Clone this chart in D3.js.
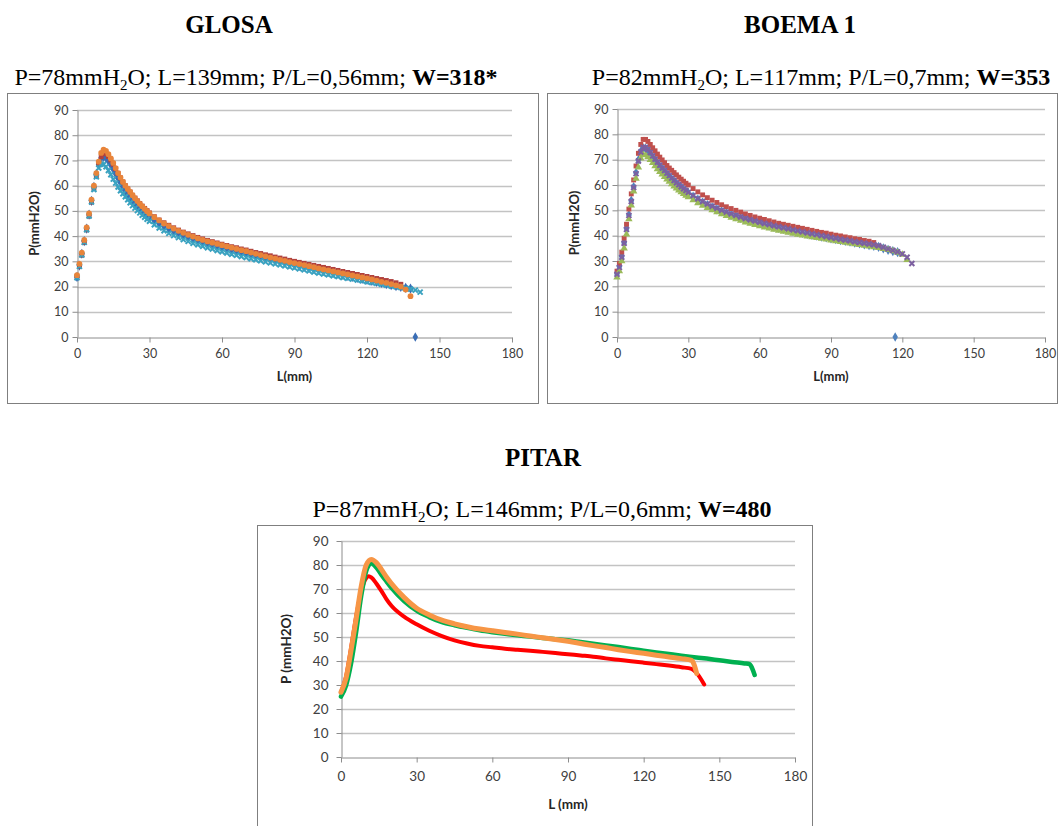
<!DOCTYPE html>
<html>
<head>
<meta charset="utf-8">
<script src="https://cdnjs.cloudflare.com/ajax/libs/d3/7.8.5/d3.min.js"></script>
<style>
body { margin: 0; background: #fff; }
svg { display: block; }
</style>
</head>
<body>
<div id="chart"></div>
<script>
// sampling grid for the two scatter charts (mm)
var gridL = [0,1,2,3,4,5,6,7,8,9,10,11,12,13,14,15,16,17,18,19,20,21,22,23,24,25,26,27,28,29,30,
  32,34,36,38,40,42,44,46,48,50,52,54,56,58,60,62,64,66,68,70,72,74,76,78,80,82,84,86,88,90,
  92,94,96,98,100,102,104,106,108,110,112,114,116,118,120,122,124,126,128,130,132,134,136,138,140,142]

// GLOSA
var glosaBlue = [23.8,28.3,33,38,43,48.5,54,59.5,64.5,68.5,71,71.5,71,69.8,68.2,66.5,64.7,62.9,61.2,59.6,
  58.1,56.7,55.4,54.2,53.1,52,51,50,49.1,48.3,47.5,
  46.1,44.9,43.8,42.8,41.9,41,40.3,39.6,38.9,38.3,37.7,37.1,36.6,36.1,35.6,35.1,34.6,34.1,33.6,33.1,
  32.6,32.2,31.7,31.2,30.8,30.3,29.9,29.5,29,28.6,28.2,27.8,27.4,27,26.6,26.2,25.8,25.4,25,24.6,
  24.2,23.8,23.4,23,22.6,22.2,21.8,21.4,21,20.6,20.2,19.9,19.5,19.2]
var glosaRed = [24,28,32.5,37.5,42.5,48,53.5,59,64,68.5,71.5,72.8,72.6,71.6,70.2,68.5,66.7,64.9,63.1,61.5,
  60,58.7,57.5,56.2,55.1,54,52.9,51.9,51,50.1,49.2,
  47.7,46.4,45.3,44.3,43.3,42.4,41.6,40.9,40.2,39.5,38.9,38.3,37.8,37.3,36.8,36.3,35.8,35.4,34.9,34.5,
  34,33.5,33.1,32.6,32.2,31.7,31.3,30.9,30.4,30,29.6,29.2,28.8,28.4,28,27.6,27.2,26.8,26.4,26,
  25.6,25.2,24.8,24.4,24,23.6,23.2,22.8,22.4,22,21.5,20.9]
var glosaTeal = [23.5,28,32.5,37.5,42.5,48,53.5,58.5,63.5,67,68.6,68.4,67.5,66,64.3,62.6,61,59.5,58,56.8,
  55.6,54.4,53.2,52.1,51.1,50.1,49.2,48.3,47.5,46.7,45.9,
  44.5,43.2,42.1,41.1,40.2,39.4,38.6,37.9,37.2,36.6,36,35.4,34.9,34.3,33.8,33.3,32.8,32.4,31.9,31.5,
  31,30.6,30.2,29.8,29.4,29,28.6,28.2,27.8,27.4,27,26.6,26.2,25.8,25.4,25,24.7,24.3,24,23.6,
  23.3,23,22.6,22.3,21.9,21.6,21.3,20.9,20.6,20.2,19.9,19.6,19.3,19,18.6,17.8]
var glosaOrange = [24.5,29,33.5,38.5,43.5,49,54.5,60,65,69.5,73,74.3,73.8,72.5,70.8,69,67,65,63.2,61.5,
  60,58.7,57.5,56.2,55,53.9,52.8,51.8,50.8,49.9,49,
  47.5,46.2,45,44,43,42.1,41.3,40.5,39.8,39.1,38.5,37.9,37.4,36.9,36.4,35.9,35.4,34.9,34.4,34,
  33.5,33,32.5,32,31.5,31.1,30.6,30.2,29.7,29.3,28.9,28.5,28.1,27.7,27.2,26.8,26.4,26,25.6,25.2,
  24.8,24.4,24,23.6,23.2,22.8,22.4,21.9,21.5,21,20.5,20,18.8,16.2]
var glosaLength = [140, 0]

// BOEMA 1
var boemaBlue = [25,27.8,31.8,37.2,42.8,48.2,53.8,59.2,64.8,69.8,73.2,74.5,74.4,73.6,72.4,71.1,69.8,68.6,67.4,66.3,
  65.3,64.3,63.3,62.3,61.4,60.5,59.7,58.9,58.1,57.4,56.7,
  55.4,54.2,53.1,52.1,51.2,50.4,49.6,48.9,48.2,47.6,47,46.4,45.9,45.4,44.9,44.4,44,43.5,43.1,42.7,
  42.3,41.9,41.5,41.1,40.7,40.3,40,39.6,39.3,38.9,38.6,38.2,37.9,37.6,37.2,36.9,36.6,36.3,36,35.6,
  35,34.4,33.9,33.5]
var boemaRed = [26,29,33.5,39,44.5,50.5,56.5,62,67.5,72.5,76,78,78,77.2,76,74.7,73.5,72.2,71,69.9,
  68.8,67.7,66.7,65.8,64.9,64,63.1,62.3,61.5,60.7,60,
  58.6,57.3,56.1,55,54,53.1,52.2,51.4,50.7,50,49.3,48.6,48,47.4,46.9,46.4,45.9,45.4,44.9,44.5,
  44.1,43.7,43.3,42.9,42.5,42.1,41.7,41.3,41,40.6,40.2,39.9,39.5,39.2,38.8,38.5,38.1,37.8,37.3,35.3]
var boemaGreen = [23.5,26,30,35,40.5,46.5,52,57.5,62.5,67,70.5,72,71.8,71,69.9,68.7,67.5,66.3,65.2,64.2,
  63.2,62.2,61.3,60.4,59.5,58.7,57.9,57.2,56.5,55.8,55.2,
  54,52.9,51.9,51,50.1,49.3,48.5,47.8,47.1,46.5,45.9,45.3,44.8,44.3,43.8,43.3,42.9,42.4,42,41.6,
  41.2,40.8,40.4,40.1,39.7,39.4,39.1,38.8,38.5,38.2,37.9,37.6,37.3,37,36.7,36.4,36.1,35.8,35.5,35.2,
  34.8,34.4,33.9,33.3,32.5,30.5]
var boemaPurple = [24.8,27.5,31.5,37,42.5,48,53.5,59,64.5,69.5,73,74.8,74.8,74,72.8,71.5,70.2,69,67.8,66.7,
  65.7,64.7,63.7,62.7,61.8,60.9,60.1,59.3,58.5,57.8,57.1,
  55.8,54.6,53.5,52.5,51.6,50.8,50,49.3,48.6,48,47.4,46.8,46.3,45.8,45.3,44.8,44.4,43.9,43.5,43.1,
  42.7,42.3,41.9,41.5,41.1,40.7,40.4,40,39.7,39.3,39,38.6,38.3,38,37.6,37.3,37,36.7,36.4,36,
  35.4,34.8,34.2,33.6,32.8,31.5,29]
var boemaLength = [117, 0]

// PITAR
var pitarRedL = [0,2,4,6,8,10,11,12,14,16,18,20,25,30,35,40,45,50,55,60,65,70,75,80,85,90,95,100,105,110,115,120,125,130,135,139,141,143,144]
var pitarRedP = [27,33.5,45.5,58.5,69,74.6,75.3,74.8,72.3,69.2,65.8,63,58.5,55.3,52.6,50.4,48.6,47.3,46.3,45.7,45.1,44.7,44.3,43.8,43.3,42.8,42.3,41.8,41.1,40.5,39.9,39.3,38.7,38.1,37.4,36.7,35,32,30.2]
var pitarGreenL = [0,2,4,6,8,10,12,14,16,18,20,25,30,35,40,45,50,55,60,65,70,75,80,85,90,95,100,105,110,115,120,125,130,135,140,145,150,155,160,162,163,164]
var pitarGreenP = [25.2,29.8,39,52,67,77.5,80.7,79,76,73.2,70.5,65,61,58.3,56.2,54.9,53.8,52.8,52,51.3,50.7,50.2,49.6,49.1,48.6,47.9,47.2,46.5,45.8,45,44.3,43.6,42.9,42.2,41.6,41,40.3,39.6,39,38.7,37,34.2]
var pitarOrangeL = [0,2,4,6,8,10,12,14,16,18,20,25,30,35,40,45,50,55,60,65,70,75,80,85,90,95,100,105,110,115,120,125,130,135,139,140,141]
var pitarOrangeP = [27,32.8,44.5,57.5,71,80,82.3,81,78.2,75,72.3,66.5,62,59.2,57,55.5,54.3,53.3,52.6,51.9,51.2,50.4,49.7,49,48.2,47.3,46.4,45.6,44.7,43.9,43.2,42.4,41.7,41,40.3,38.5,34.8]

var xTicks = [0,30,60,90,120,150,180]
var yTicks = [0,10,20,30,40,50,60,70,80,90]

var svg = d3.select('#chart')
    .append('svg')
    .attr('width', 1062)
    .attr('height', 826)

var serif = '"Liberation Serif", "Times New Roman", serif'
var sans = 'Lato, "Open Sans", sans-serif'

function addPanel(p) {
    var g = svg.append('g')
    // frame
    g.append('rect')
        .attr('x', p.box[0] + 0.5).attr('y', p.box[1] + 0.5)
        .attr('width', p.box[2]).attr('height', p.box[3])
        .attr('fill', 'none').attr('stroke', '#7f7f7f')
    // titles
    g.append('text')
        .attr('x', p.titleX).attr('y', p.titleY)
        .attr('text-anchor', 'middle')
        .style('font-family', serif).style('font-weight', 'bold').style('font-size', '25px')
        .text(p.title)
    var st = g.append('text')
        .attr('x', p.subX).attr('y', p.subY)
        .attr('text-anchor', 'middle')
        .style('font-family', serif).style('font-size', '24px')
    st.append('tspan').style('font-family', serif).text(p.sub[0])
    st.append('tspan').attr('dy', 5).style('font-family', serif).style('font-size', '15px').text('2')
    st.append('tspan').attr('dy', -5).style('font-family', serif).text(p.sub[1])
    st.append('tspan').style('font-family', serif).style('font-weight', 'bold').text(p.sub[2])

    var x = d3.scaleLinear().domain([0, 180]).range([p.x0, p.x1])
    var y = d3.scaleLinear().domain([0, 90]).range([p.y0, p.y1])

    // gridlines
    g.append('g').selectAll('line')
        .data(yTicks.filter(function(d){ return d > 0 }))
        .enter()
        .append('line')
        .attr('x1', p.x0).attr('x2', p.x1)
        .attr('y1', function(d){ return Math.round(y(d)) + 0.5 })
        .attr('y2', function(d){ return Math.round(y(d)) + 0.5 })
        .attr('stroke', '#c3c3c3').attr('stroke-width', 1.3)

    var xa = g.append('g')
        .attr('transform', 'translate(0,' + (Math.round(p.y0) + 0.5) + ')')
        .call(d3.axisBottom(x).tickValues(xTicks).tickSize(5).tickSizeOuter(0).tickPadding(p.xPad))
    var ya = g.append('g')
        .attr('transform', 'translate(' + (Math.round(p.x0) + 0.5) + ',0)')
        .call(d3.axisLeft(y).tickValues(yTicks).tickSize(5).tickSizeOuter(0).tickPadding(p.yPad))
    ;[xa, ya].forEach(function(a){
        a.selectAll('path, line').attr('stroke', '#8c8c8c')
        a.selectAll('text')
            .style('font-family', sans).style('font-size', p.tickFont + 'px').attr('fill', '#404040')
    })

    g.append('text')
        .attr('x', (p.x0 + p.x1) / 2).attr('y', p.xTitleY)
        .attr('text-anchor', 'middle').attr('dominant-baseline', 'middle')
        .style('font-family', sans).style('font-weight', 'bold').style('font-size', p.titleFont + 'px')
        .attr('fill', '#262626')
        .text(p.xTitle)
    g.append('text')
        .attr('transform', 'translate(' + p.yTitleX + ',' + (p.y0 + p.y1) / 2 + ') rotate(-90)')
        .attr('text-anchor', 'middle').attr('dominant-baseline', 'middle')
        .style('font-family', sans).style('font-weight', 'bold').style('font-size', p.titleFont + 'px')
        .attr('fill', '#262626')
        .text(p.yTitle)

    return { g: g, x: x, y: y }
}

function dots(panel, xs, ys, color, type, size, stroked) {
    panel.g.append('g')
        .selectAll('path')
        .data(ys)
        .enter()
        .append('path')
        .attr('transform', function(d, i){
            return 'translate(' + panel.x(xs[i]) + ',' + panel.y(d) + ')'
        })
        .attr('d', d3.symbol().type(type).size(size))
        .attr('fill', stroked ? 'none' : color)
        .attr('stroke', stroked ? color : 'none')
        .attr('stroke-width', stroked ? 2 : 0)
}

function curve(panel, xs, ys, color, width) {
    var line = d3.line()
        .x(function(d, i){ return panel.x(xs[i]) })
        .y(function(d){ return panel.y(d) })
        .curve(d3.curveMonotoneX)
    panel.g.append('path')
        .datum(ys)
        .attr('d', line)
        .attr('fill', 'none')
        .attr('stroke', color)
        .attr('stroke-width', width)
        .attr('stroke-linejoin', 'round')
        .attr('stroke-linecap', 'round')
}

var glosa = addPanel({
    box: [7, 93, 531, 310], title: 'GLOSA', titleX: 229, titleY: 33,
    sub: ['P=78mmH', 'O; L=139mm; P/L=0,56mm; ', 'W=318*'], subX: 256, subY: 85,
    x0: 77, x1: 512, y0: 337, y1: 110, xPad: 7, yPad: 4, tickFont: 12.5, titleFont: 13,
    xTitle: 'L(mm)', xTitleY: 378, yTitle: 'P(mmH2O)', yTitleX: 36
})
dots(glosa, gridL, glosaBlue, '#3a6db5', d3.symbolDiamond, 30)
dots(glosa, gridL, glosaRed, '#b0403d', d3.symbolSquare, 24)
dots(glosa, gridL, glosaTeal, '#3aa2c0', d3.symbolTimes, 18, true)
dots(glosa, gridL, glosaOrange, '#e8843a', d3.symbolCircle, 26)
dots(glosa, [glosaLength[0]], [glosaLength[1]], '#3a6db5', d3.symbolDiamond, 26)

var boema = addPanel({
    box: [547, 93, 510, 310], title: 'BOEMA 1', titleX: 800, titleY: 33,
    sub: ['P=82mmH', 'O; L=117mm; P/L=0,7mm; ', 'W=353'], subX: 821, subY: 85,
    x0: 617, x1: 1045, y0: 337, y1: 109, xPad: 7, yPad: 4, tickFont: 12.5, titleFont: 13,
    xTitle: 'L(mm)', xTitleY: 378, yTitle: 'P(mmH2O)', yTitleX: 576
})
dots(boema, gridL, boemaBlue, '#4f81bd', d3.symbolDiamond, 30)
dots(boema, gridL, boemaRed, '#c0504d', d3.symbolSquare, 24)
dots(boema, gridL, boemaGreen, '#9bbb59', d3.symbolTriangle, 24)
dots(boema, gridL, boemaPurple, '#7d60a0', d3.symbolTimes, 18, true)
dots(boema, [boemaLength[0]], [boemaLength[1]], '#4f81bd', d3.symbolDiamond, 26)

var pitar = addPanel({
    box: [257, 525, 555, 320], title: 'PITAR', titleX: 543, titleY: 466,
    sub: ['P=87mmH', 'O; L=146mm; P/L=0,6mm; ', 'W=480'], subX: 542, subY: 517,
    x0: 341, x1: 795, y0: 757, y1: 541, xPad: 9, yPad: 8, tickFont: 13.5, titleFont: 13.5,
    xTitle: 'L (mm)', xTitleY: 806, yTitle: 'P (mmH2O)', yTitleX: 288
})
curve(pitar, pitarRedL, pitarRedP, '#ff0000', 4)
curve(pitar, pitarGreenL, pitarGreenP, '#00b050', 4.5)
curve(pitar, pitarOrangeL, pitarOrangeP, '#f79646', 5)
</script>
</body>
</html>
